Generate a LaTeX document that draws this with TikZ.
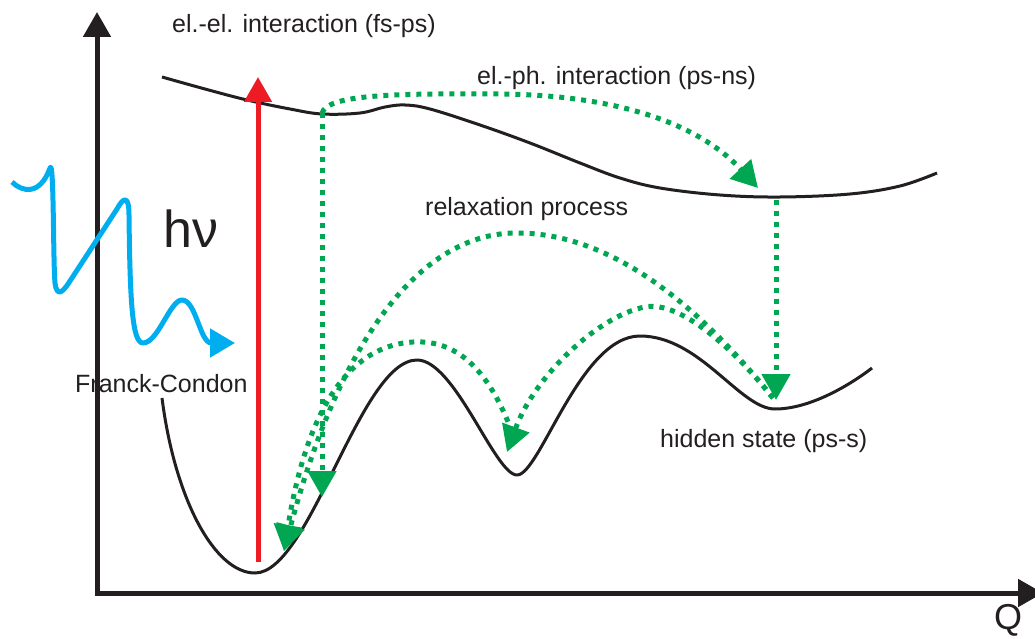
\documentclass[tikz,border=0pt]{standalone}
\usepackage{fontspec}
\setmainfont{Liberation Sans}
\usetikzlibrary{arrows.meta}
\definecolor{ink}{HTML}{231F20}
\definecolor{pgreen}{HTML}{00A651}
\definecolor{pred}{HTML}{ED1C24}
\definecolor{pcyan}{HTML}{00AEEF}
\begin{document}
\begin{tikzpicture}[x=1pt,y=-1pt,
  lbl/.style={inner sep=0pt,anchor=base west,text=ink,font=\fontsize{25}{30}\selectfont},
  axisline/.style={draw=ink,line width=5pt,-{Triangle[length=25pt,width=27pt]}},
  pes/.style={draw=ink,line width=3pt,line join=round},
  excite/.style={draw=pred,line width=5pt,-{Triangle[length=25pt,width=27pt]}},
  photon/.style={draw=pcyan,line width=5pt,line join=round,-{Triangle[length=25pt,width=28pt]}},
  relax/.style={draw=pgreen,line width=5pt,dash pattern=on 5pt off 6pt,-{Triangle[length=26pt,width=28pt]}}]
\useasboundingbox (0,0) rectangle (1035,639);

% labels
\node[lbl] (lee) at (172,33) {el.-el. interaction (fs-ps)};
\node[lbl] (lep) at (477,85) {el.-ph. interaction (ps-ns)};
\node[lbl] (lrp) at (425,215) {relaxation process};
\node[lbl] (lfc) at (75,392) {Franck-Condon};
\node[lbl] (lhs) at (660,447) {hidden state (ps-s)};
\node[lbl,font=\fontsize{52}{60}\selectfont] (lhv) at (163,247) {hν};
\node[lbl,font=\fontsize{36}{42}\selectfont] (lq) at (994,629) {Q};

% axes
\coordinate (O) at (97,593);
\coordinate (ytip) at (97,12);
\coordinate (xtip) at (1043,593);
\draw[axisline] ([yshift=2.5pt]O) -- (ytip);
\draw[axisline] ([xshift=-2.5pt]O) -- (xtip);

% excited-state curve
\draw[pes] plot[smooth,tension=0.6] coordinates {(162,77) (205,89) (247,100) (290,109) (322,114) (360,113) (385,107) (405,105) (430,109) (480,125) (530,143) (580,163) (620,178) (660,188) (720,195) (780,197) (850,194) (900,186) (937,173)};

% ground-state curve
\draw[pes] (162,398) .. controls (175,500) and (215,573) .. (255,573)
  .. controls (310,573) and (360,360) .. (417,360)
  .. controls (455,360) and (495,475) .. (517,475)
  .. controls (540,475) and (580,336) .. (640,336)
  .. controls (700,336) and (740,409) .. (775,409)
  .. controls (810,409) and (850,385) .. (872,368);

% excitation
\coordinate (fcb) at (258,562);
\coordinate (fct) at (258,77);
\draw[excite] (fcb) -- (fct);

% photon
\coordinate (ph0) at (12,182);
\coordinate (ph1) at (235,343);
\draw[photon] (ph0) .. controls (22,192) and (40,196) .. (50,168)
  .. controls (54,157) and (53,260) .. (55,283)
  .. controls (57,298) and (63,292) .. (70,281)
  -- (117,209)
  .. controls (124,196) and (129,196) .. (129,215)
  .. controls (130,300) and (132,343) .. (143,343)
  .. controls (158,343) and (170,300) .. (182,300)
  .. controls (196,300) and (200,343) .. (ph1);

% relaxation paths
\coordinate (fc) at (322,113);
\coordinate (fcd) at (322,497);
\coordinate (ub) at (758,188);
\coordinate (hst) at (776,200);
\coordinate (hs) at (776,400);
\coordinate (hsa) at (773,398);
\coordinate (lm) at (284,551);
\coordinate (mm) at (507,452);
\coordinate (mms) at (512,432);

\draw[relax] (fc) -- (fcd);
\draw[relax] (fc) .. controls (328,96) and (380,93) .. (500,94)
  .. controls (620,95) and (700,125) .. (ub);
\draw[relax] (hsa) .. controls (710,320) and (620,232) .. (515,233)
  .. controls (420,234) and (340,340) .. (lm);
\draw[relax] (mms) .. controls (485,360) and (450,340) .. (413,342)
  .. controls (360,345) and (310,390) .. (lm);
\draw[relax] (hsa) .. controls (735,350) and (680,300) .. (645,307)
  .. controls (600,315) and (535,375) .. (mm);
\draw[relax] (hst) -- (hs);
\end{tikzpicture}
\end{document}
